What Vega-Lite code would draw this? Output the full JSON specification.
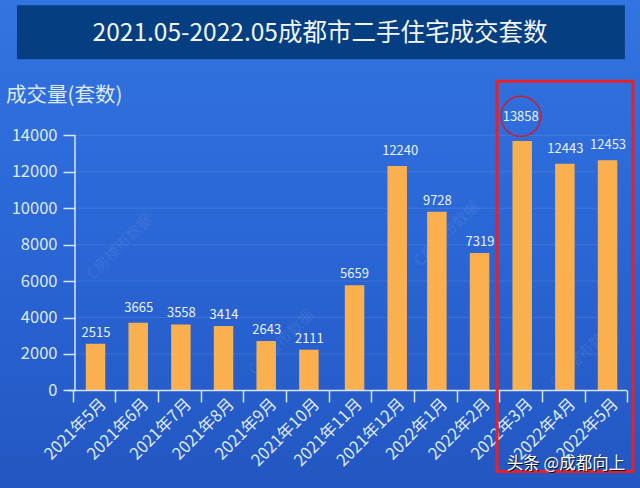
{
  "$schema": "https://vega.github.io/schema/vega-lite/v6.json",
  "width": 640,
  "height": 488,
  "padding": 0,
  "autosize": {"type": "none"},
  "background": "#2a66d6",
  "view": {
    "stroke": null,
    "fill": {
      "gradient": "linear", "x1": 0, "y1": 0, "x2": 0, "y2": 1,
      "stops": [
        {"offset": 0, "color": "#3274e0"},
        {"offset": 0.5, "color": "#2a66d6"},
        {"offset": 1, "color": "#2357c2"}
      ]
    }
  },
  "config": {"font": "Noto Sans CJK SC"},
  "datasets": {
    "months": [
      {"month": "2021年5月", "bar": 2564, "label": 2515, "gap": "low"},
      {"month": "2021年6月", "bar": 3716, "label": 3665, "gap": "high"},
      {"month": "2021年7月", "bar": 3623, "label": 3558, "gap": "low"},
      {"month": "2021年8月", "bar": 3532, "label": 3414, "gap": "low"},
      {"month": "2021年9月", "bar": 2709, "label": 2643, "gap": "low"},
      {"month": "2021年10月", "bar": 2233, "label": 2111, "gap": "low"},
      {"month": "2021年11月", "bar": 5765, "label": 5659, "gap": "low2"},
      {"month": "2021年12月", "bar": 12315, "label": 12240, "gap": "high2"},
      {"month": "2022年1月", "bar": 9810, "label": 9728, "gap": "low"},
      {"month": "2022年2月", "bar": 7540, "label": 7319, "gap": "low"},
      {"month": "2022年3月", "bar": 13688, "label": 13858, "gap": "top"},
      {"month": "2022年4月", "bar": 12444, "label": 12443, "gap": "high"},
      {"month": "2022年5月", "bar": 12628, "label": 12453, "gap": "high"}
    ]
  },
  "layer": [
    {
      "layer": [
        {
          "data": {"values": [{"at": 2000}, {"at": 4000}, {"at": 6000}, {"at": 8000}, {"at": 10000}, {"at": 12000}, {"at": 14000}]},
          "mark": {"type": "rule", "color": "#ffffff", "opacity": 0.1, "strokeWidth": 1},
          "encoding": {
            "x": {"datum": 0, "type": "quantitative", "scale": {"domain": [-1.766, 13.306], "nice": false, "zero": false}, "axis": null},
            "x2": {"datum": 12.6},
            "y": {"field": "at", "type": "quantitative", "scale": {"domain": [-5357, 21427], "nice": false, "zero": false}, "axis": null}
          }
        },
        {
          "data": {"values": [{"from": -1.366, "to": 12.95, "top": 21137, "bottom": 18173}]},
          "mark": {"type": "rect", "color": "#053f82"},
          "encoding": {
            "x": {"field": "from", "type": "quantitative", "axis": null},
            "x2": {"field": "to"},
            "y": {"field": "top", "type": "quantitative", "axis": null},
            "y2": {"field": "bottom"}
          }
        },
        {
          "data": {"values": [{"x": 5.77, "y": 19550, "text": "2021.05-2022.05成都市二手住宅成交套数"}]},
          "mark": {"type": "text", "color": "#f2f6fb", "fontSize": 24.5, "baseline": "middle", "align": "center"},
          "encoding": {
            "x": {"field": "x", "type": "quantitative", "axis": null},
            "y": {"field": "y", "type": "quantitative", "axis": null},
            "text": {"field": "text"}
          }
        },
        {
          "data": {"values": [{"x": -1.625, "y": 16150, "text": "成交量(套数)"}]},
          "mark": {"type": "text", "color": "#dfe9f6", "fontSize": 20.5, "baseline": "middle", "align": "left"},
          "encoding": {
            "x": {"field": "x", "type": "quantitative", "axis": null},
            "y": {"field": "y", "type": "quantitative", "axis": null},
            "text": {"field": "text"}
          }
        },
        {
          "data": {"values": [
            {"x": 1.05, "y": 7900, "text": "C房楼市数据"},
            {"x": 4.85, "y": 2650, "text": "C房楼市数据"},
            {"x": 8.75, "y": 8600, "text": "C房楼市数据"},
            {"x": 11.95, "y": 1950, "text": "C房楼市数据"}
          ]},
          "mark": {"type": "text", "color": "#ffffff", "opacity": 0.07, "fontSize": 15, "angle": -45, "align": "center", "baseline": "middle"},
          "encoding": {
            "x": {"field": "x", "type": "quantitative", "axis": null},
            "y": {"field": "y", "type": "quantitative", "axis": null},
            "text": {"field": "text"}
          }
        }
      ]
    },
    {
      "data": {"name": "months"},
      "encoding": {
        "x": {
          "field": "month",
          "type": "ordinal",
          "scale": {
            "domain": ["2021年5月", "2021年6月", "2021年7月", "2021年8月", "2021年9月", "2021年10月", "2021年11月", "2021年12月", "2022年1月", "2022年2月", "2022年3月", "2022年4月", "2022年5月"],
            "paddingInner": 0,
            "paddingOuter": 1.036,
            "align": 0.852
          },
          "axis": {
            "title": null,
            "offset": -98,
            "domain": false,
            "tickBand": "extent",
            "tickColor": "#d6e6f2",
            "tickWidth": 1.5,
            "tickSize": 12,
            "labelAngle": -45,
            "labelAlign": "right",
            "labelBaseline": "middle",
            "labelColor": "#dfe9f6",
            "labelFontSize": 16.5,
            "labelPadding": -1,
            "labelOffset": 9,
            "labelOverlap": false
          }
        }
      },
      "layer": [
        {
          "transform": [{"filter": "datum.gap !== 'low2' && datum.gap !== 'high2'"}],
          "mark": {"type": "bar", "color": "#fbb050", "width": 19.5, "xOffset": 1.5},
          "encoding": {
            "y": {
              "field": "bar",
              "type": "quantitative",
              "scale": {"domain": [-5357, 21427], "nice": false, "zero": false},
              "axis": {
                "title": null,
                "orient": "left",
                "offset": -75,
                "values": [0, 2000, 4000, 6000, 8000, 10000, 12000, 14000],
                "format": "d",
                "domain": false,
                "grid": false,
                "tickColor": "#d6e6f2",
                "tickWidth": 1.5,
                "tickSize": 12,
                "labelColor": "#dfe9f6",
                "labelFontSize": 16.5,
                "labelPadding": 6
              }
            }
          }
        },
        {
          "transform": [{"filter": "datum.gap === 'low2' || datum.gap === 'high2'"}],
          "mark": {"type": "bar", "color": "#fbb050", "width": 19.5, "xOffset": 4.5},
          "encoding": {"y": {"field": "bar", "type": "quantitative", "axis": null}}
        },
        {
          "transform": [{"filter": "datum.gap === 'low'"}],
          "mark": {"type": "text", "color": "#e8f0fa", "fontSize": 13, "dx": 2, "dy": -11, "baseline": "middle"},
          "encoding": {"y": {"field": "bar", "type": "quantitative", "axis": null}, "text": {"field": "label", "type": "nominal"}}
        },
        {
          "transform": [{"filter": "datum.gap === 'high'"}],
          "mark": {"type": "text", "color": "#e8f0fa", "fontSize": 13, "dx": 2, "dy": -15, "baseline": "middle"},
          "encoding": {"y": {"field": "bar", "type": "quantitative", "axis": null}, "text": {"field": "label", "type": "nominal"}}
        },
        {
          "transform": [{"filter": "datum.gap === 'low2'"}],
          "mark": {"type": "text", "color": "#e8f0fa", "fontSize": 13, "dx": 4.5, "dy": -11, "baseline": "middle"},
          "encoding": {"y": {"field": "bar", "type": "quantitative", "axis": null}, "text": {"field": "label", "type": "nominal"}}
        },
        {
          "transform": [{"filter": "datum.gap === 'high2'"}],
          "mark": {"type": "text", "color": "#e8f0fa", "fontSize": 13, "dx": 7.5, "dy": -15, "baseline": "middle"},
          "encoding": {"y": {"field": "bar", "type": "quantitative", "axis": null}, "text": {"field": "label", "type": "nominal"}}
        },
        {
          "transform": [{"filter": "datum.gap === 'top'"}],
          "mark": {"type": "text", "color": "#e8f0fa", "fontSize": 13, "dx": 0, "dy": -24.5, "baseline": "middle"},
          "encoding": {"y": {"field": "bar", "type": "quantitative", "axis": null}, "text": {"field": "label", "type": "nominal"}}
        }
      ],
      "resolve": {"axis": {"y": "independent"}}
    },
    {
      "layer": [
        {
          "data": {"values": [{"x": 0, "bottom": 0, "top": 14000}]},
          "mark": {"type": "rule", "color": "#d6e6f2", "strokeWidth": 1.5},
          "encoding": {
            "x": {"field": "x", "type": "quantitative", "scale": {"domain": [-1.766, 13.306], "nice": false, "zero": false}, "axis": null},
            "y": {"field": "bottom", "type": "quantitative", "axis": null},
            "y2": {"field": "top"}
          }
        },
        {
          "data": {"values": [{"from": -0.165, "to": 13, "at": 0}]},
          "mark": {"type": "rule", "color": "#d6e6f2", "strokeWidth": 1.5},
          "encoding": {
            "x": {"field": "from", "type": "quantitative", "axis": null},
            "x2": {"field": "to"},
            "y": {"field": "at", "type": "quantitative", "axis": null}
          }
        },
        {
          "data": {"values": [{"from": 9.94, "to": 13.14, "top": 16965, "bottom": -4447}]},
          "mark": {"type": "rect", "fill": "transparent", "stroke": "#e8202a", "strokeWidth": 3},
          "encoding": {
            "x": {"field": "from", "type": "quantitative", "axis": null},
            "x2": {"field": "to"},
            "y": {"field": "top", "type": "quantitative", "axis": null},
            "y2": {"field": "bottom"}
          }
        },
        {
          "data": {"values": [{"x": 10.5, "y": 15043}]},
          "mark": {"type": "point", "shape": "circle", "size": 1600, "filled": false, "color": "#c8202f", "strokeWidth": 1.5, "opacity": 1},
          "encoding": {
            "x": {"field": "x", "type": "quantitative", "axis": null},
            "y": {"field": "y", "type": "quantitative", "axis": null}
          }
        },
        {
          "data": {"values": [{"x": 10.17, "y": -4060, "text": "头条 @成都向上"}]},
          "mark": {"type": "text", "color": "#111111", "fontSize": 16.5, "align": "left", "baseline": "middle", "dx": 1, "dy": 1},
          "encoding": {
            "x": {"field": "x", "type": "quantitative", "axis": null},
            "y": {"field": "y", "type": "quantitative", "axis": null},
            "text": {"field": "text"}
          }
        },
        {
          "data": {"values": [{"x": 10.17, "y": -4060, "text": "头条 @成都向上"}]},
          "mark": {"type": "text", "color": "#ffffff", "fontSize": 16.5, "align": "left", "baseline": "middle"},
          "encoding": {
            "x": {"field": "x", "type": "quantitative", "axis": null},
            "y": {"field": "y", "type": "quantitative", "axis": null},
            "text": {"field": "text"}
          }
        }
      ]
    }
  ],
  "resolve": {"scale": {"x": "independent"}, "axis": {"x": "independent", "y": "independent"}}
}
